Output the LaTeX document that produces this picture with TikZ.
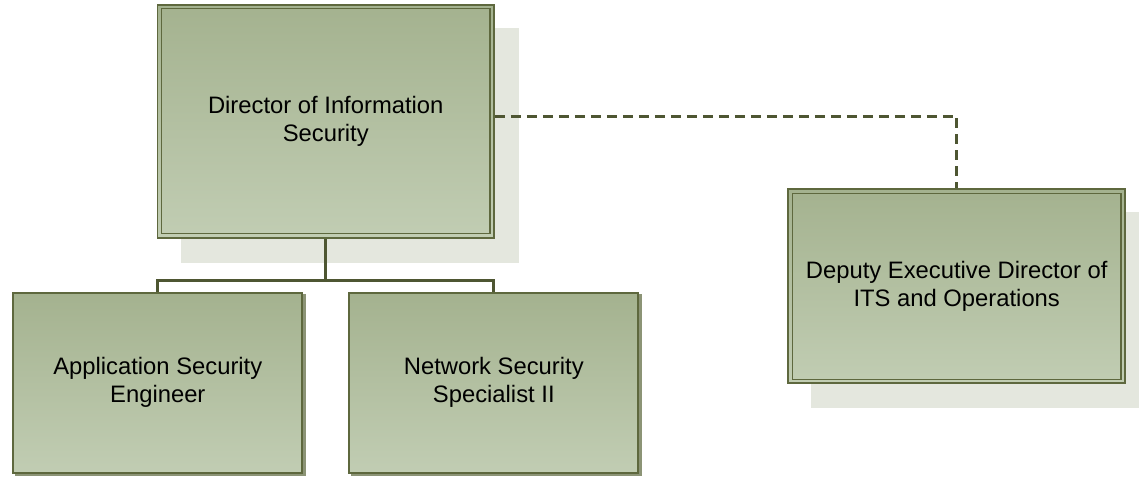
\documentclass[tikz,border=0pt]{standalone}
\usepackage{fontspec}
\setmainfont{Liberation Sans}
\usetikzlibrary{backgrounds}
\definecolor{boxtop}{RGB}{164,178,143}
\definecolor{boxbot}{RGB}{193,205,179}
\definecolor{boxline}{RGB}{94,104,62}
\definecolor{shadowc}{RGB}{228,231,222}
\definecolor{darkshadow}{RGB}{140,148,118}
\definecolor{connc}{RGB}{78,86,50}
\begin{document}
\begin{tikzpicture}[x=1pt,y=-1pt,
  box/.style={draw=boxline, line width=1.8pt, top color=boxtop, bottom color=boxbot,
    inner sep=0pt, align=center, font=\fontsize{23.8}{28}\selectfont},
  conn/.style={draw=connc, line width=2.7pt},
  dconn/.style={draw=connc, line width=2.8pt, dash pattern=on 10pt off 6pt},
  inner/.style={draw=boxline, line width=1.2pt},
  bigshadow/.style={fill=shadowc},
  smallshadow/.style={fill=darkshadow}]
\useasboundingbox (0,0) rectangle (1139,476);

\node[box, minimum width=336.5pt, minimum height=233pt] (dir) at (325.75,121.2) {Director of Information\\Security};
\node[box, minimum width=289pt, minimum height=180pt] (app) at (157.8,382.7) {Application Security\\Engineer};
\node[box, minimum width=289pt, minimum height=180pt] (net) at (493.8,382.7) {Network Security\\Specialist II};
\node[box, minimum width=336.7pt, minimum height=194pt] (dep) at (956.7,286.3) {Deputy Executive Director of\\ITS and Operations};

\begin{scope}[on background layer]
  \fill[bigshadow] ([shift={(24pt,-24pt)}]dir.north west) rectangle ([shift={(24pt,-24pt)}]dir.south east);
  \fill[bigshadow] ([shift={(24pt,-24pt)}]dep.north west) rectangle ([shift={(24pt,-24pt)}]dep.south east);
  \fill[smallshadow] ([shift={(2.5pt,-2.5pt)}]app.north west) rectangle ([shift={(2.5pt,-2.5pt)}]app.south east);
  \fill[smallshadow] ([shift={(2.5pt,-2.5pt)}]net.north west) rectangle ([shift={(2.5pt,-2.5pt)}]net.south east);
\end{scope}

\draw[inner] ([shift={(5pt,-5pt)}]dir.north west) rectangle ([shift={(-5pt,5pt)}]dir.south east);
\draw[inner] ([shift={(5pt,-5pt)}]dep.north west) rectangle ([shift={(-5pt,5pt)}]dep.south east);

\coordinate (j) at (325.75,280.7);
\draw[conn] (dir.south) -- (j) -| (app.north);
\draw[conn] (j) -| (net.north);
\draw[dconn] ([yshift=5pt]dir.east) -| (dep.north);
\end{tikzpicture}
\end{document}
